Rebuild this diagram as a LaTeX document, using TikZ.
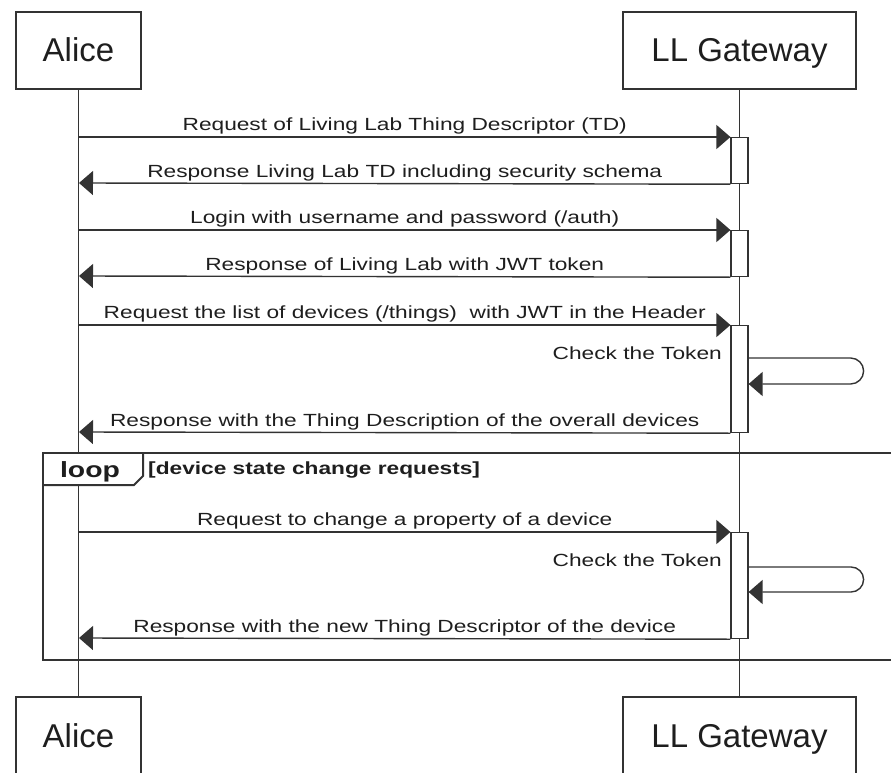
\documentclass[tikz,border=0pt]{standalone}
\usepackage{fontspec}
\setmainfont{Liberation Sans}
\newfontfamily\msgfont[FakeStretch=1.29]{Liberation Sans}
\usetikzlibrary{arrows.meta,calc}
\definecolor{linec}{HTML}{333333}
\definecolor{txtc}{HTML}{1E1E1E}
\newcommand\msgsize{\msgfont\fontsize{17.6}{20}\selectfont}

\begin{document}
\begin{tikzpicture}[x=1pt,y=-1pt,>={Triangle[length=14pt,width=24pt]},
  actor/.style={draw=linec,line width=1.4pt,minimum height=77pt,inner sep=0pt,
    text height=27pt,text depth=4pt,font=\fontsize{33}{36}\selectfont,text=txtc},
  act/.style={draw=linec,fill=white,line width=1.2pt,minimum width=17pt,inner sep=0pt,anchor=north},
  life/.style={draw=linec,line width=1.5pt},
  msg/.style={draw=linec,line width=1.4pt,->},
  lbl/.style={font=\msgsize,text=txtc,anchor=base,yshift=6.5pt,inner sep=0pt}]
\useasboundingbox (0,0) rectangle (891,773);
\clip (0,0) rectangle (891,773);
% participants
\node[actor,minimum width=125pt] (aliceTop) at (78.5,50.5) {Alice};
\node[actor,minimum width=233pt] (gwTop) at (739.5,50.5) {LL Gateway};
\node[actor,minimum width=125pt] (aliceBot) at (78.5,735.5) {Alice};
\node[actor,minimum width=233pt] (gwBot) at (739.5,735.5) {LL Gateway};
\draw[life] (aliceTop) -- (aliceBot);
\draw[life] (gwTop) -- (gwBot);
% activations
\node[act,minimum height=46pt] (act1) at (739.5,137) {};
\node[act,minimum height=46pt] (act2) at (739.5,230) {};
\node[act,minimum height=107pt] (act3) at (739.5,325) {};
\node[act,minimum height=106pt] (act4) at (739.5,532) {};
% points on Alice's lifeline
\foreach \n/\y in {m1/137,m2/183,m3/230,m4/276,m5/325,m6/432,m7/532,m8/638}
  \coordinate (\n) at (79,\y);
% messages
\draw[msg] (m1) -- (act1.north west) node[lbl,midway]{Request of Living Lab Thing Descriptor (TD)};
\draw[msg] (act1.south west) -- (m2) node[lbl,midway]{Response Living Lab TD including security schema};
\draw[msg] (m3) -- (act2.north west) node[lbl,midway]{Login with username and password (/auth)};
\draw[msg] (act2.south west) -- (m4) node[lbl,midway]{Response of Living Lab with JWT token};
\draw[msg] (m5) -- (act3.north west) node[lbl,midway]{Request the list of devices (/things)\ \ with JWT in the Header};
\draw[msg] (act3.south west) -- (m6) node[lbl,midway]{Response with the Thing Description of the overall devices};
% self check
\path (act3.north east) ++(0,33) coordinate (s1out) ++(0,26) coordinate (s1in);
\draw[msg,rounded corners=13pt] (s1out) -- ++(115,0) -- ++(0,26) -- (s1in);
\node[lbl,anchor=base east,yshift=0pt] (chk1) at (722,366) {Check the Token};
% loop frame
\fill[white] (43,453) -- (43,485) -- (134,485) -- (143,476) -- (143,453) -- cycle;
\draw[linec,line width=2.6pt] (43,453) rectangle (905,660);
\draw[linec,line width=2pt] (43,485) -- (134,485) -- (143,476) -- (143,453);
\node[inner sep=0pt,anchor=base,text=txtc,font=\msgfont\bfseries\fontsize{22}{24}\selectfont] (loopTag) at (90,477) {loop};
\node[inner sep=0pt,anchor=base west,text=txtc,font=\msgsize\bfseries] (loopGuard) at (148,474) {[device state change requests]};
\draw[msg] (m7) -- (act4.north west) node[lbl,midway]{Request to change a property of a device};
\path (act4.north east) ++(0,35) coordinate (s2out) ++(0,25) coordinate (s2in);
\draw[msg,rounded corners=12.5pt] (s2out) -- ++(115,0) -- ++(0,25) -- (s2in);
\node[lbl,anchor=base east,yshift=0pt] (chk2) at (722,573) {Check the Token};
\draw[msg] (act4.south west) -- (m8) node[lbl,midway]{Response with the new Thing Descriptor of the device};
\end{tikzpicture}
\end{document}
